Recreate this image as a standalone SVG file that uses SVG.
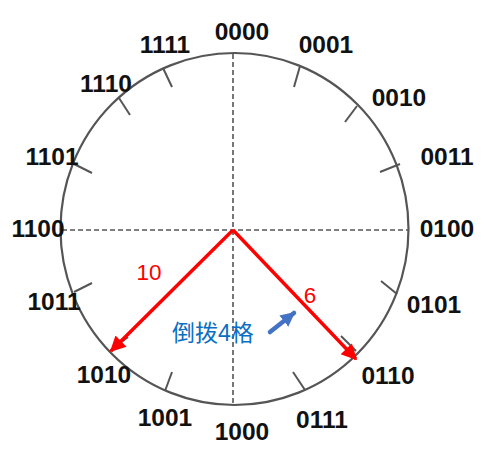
<svg xmlns="http://www.w3.org/2000/svg" width="486" height="452" viewBox="0 0 486 452">
<style>
.lbl{font-family:"Liberation Sans",Arial,sans-serif;font-weight:bold;font-size:24.5px;fill:#111;text-anchor:middle}
.tick{stroke:#555;stroke-width:2;fill:none}
.dash{stroke:#555;stroke-width:1.6;stroke-dasharray:5 3;fill:none}
.red{stroke:#f00;stroke-width:3.4;fill:none}
.rtxt{font-family:"Liberation Sans",Arial,sans-serif;font-size:22.5px;fill:#f00;text-anchor:middle}
.btxt{font-family:"Liberation Sans","Noto Sans CJK SC",sans-serif;font-size:23px;fill:#0a6fc2}
</style>
<defs>
<marker id="ra" viewBox="0 0 10 10" refX="9" refY="5" markerWidth="5" markerHeight="4.6" orient="auto" markerUnits="strokeWidth">
<path d="M0,0L10,5L0,10z" fill="#f00"/>
</marker>
<marker id="ba" viewBox="0 0 10 10" refX="9" refY="5" markerWidth="3.2" markerHeight="3.2" orient="auto" markerUnits="strokeWidth">
<path d="M0,0L10,5L0,10z" fill="#4472c4"/>
</marker>
</defs>
<rect width="486" height="452" fill="#fff"/>
<g id="dial">
<ellipse cx="234.5" cy="229" rx="174" ry="176" stroke="#555" stroke-width="2.2" fill="none"/>
<line class="dash" x1="233" y1="54" x2="233" y2="405"/>
<line class="dash" x1="62" y1="230" x2="408" y2="230"/>
<g id="ticks">
<line class="tick" x1="300" y1="66" x2="294" y2="87"/>
<line class="tick" x1="357" y1="106" x2="345" y2="122"/>
<line class="tick" x1="400" y1="164" x2="380" y2="172"/>
<line class="tick" x1="397" y1="294" x2="381" y2="281"/>
<line class="tick" x1="356" y1="351" x2="341" y2="336"/>
<line class="tick" x1="305" y1="390" x2="293" y2="372"/>
<line class="tick" x1="165" y1="391" x2="172" y2="372"/>
<line class="tick" x1="110" y1="351" x2="128" y2="337"/>
<line class="tick" x1="74" y1="292" x2="92" y2="283"/>
<line class="tick" x1="74" y1="164" x2="92" y2="173"/>
<line class="tick" x1="119" y1="98" x2="130" y2="115"/>
<line class="tick" x1="163" y1="68" x2="172" y2="87"/>
</g>
</g>
<g id="labels">
<text class="lbl" x="242" y="40">0000</text>
<text class="lbl" x="326" y="53">0001</text>
<text class="lbl" x="399" y="106">0010</text>
<text class="lbl" x="447" y="165">0011</text>
<text class="lbl" x="447" y="237">0100</text>
<text class="lbl" x="434" y="313">0101</text>
<text class="lbl" x="388" y="384">0110</text>
<text class="lbl" x="322" y="428">0111</text>
<text class="lbl" x="242" y="440">1000</text>
<text class="lbl" x="165" y="426">1001</text>
<text class="lbl" x="104" y="383">1010</text>
<text class="lbl" x="54" y="310">1011</text>
<text class="lbl" x="38" y="237">1100</text>
<text class="lbl" x="52" y="165">1101</text>
<text class="lbl" x="106" y="92">1110</text>
<text class="lbl" x="165" y="53">1111</text>
</g>
<g id="connectors">
<line class="red" x1="233" y1="230" x2="111" y2="351" marker-end="url(#ra)"/>
<line class="red" x1="233" y1="230" x2="356" y2="359" marker-end="url(#ra)"/>
<line x1="270" y1="332" x2="294" y2="313" stroke="#4472c4" stroke-width="4.5" stroke-linecap="round" marker-end="url(#ba)"/>
</g>
<g id="annotations">
<text class="rtxt" x="149" y="280">10</text>
<text class="rtxt" x="310" y="303">6</text>
<text class="btxt" x="172" y="341">倒拨4格</text>
</g>
</svg>
